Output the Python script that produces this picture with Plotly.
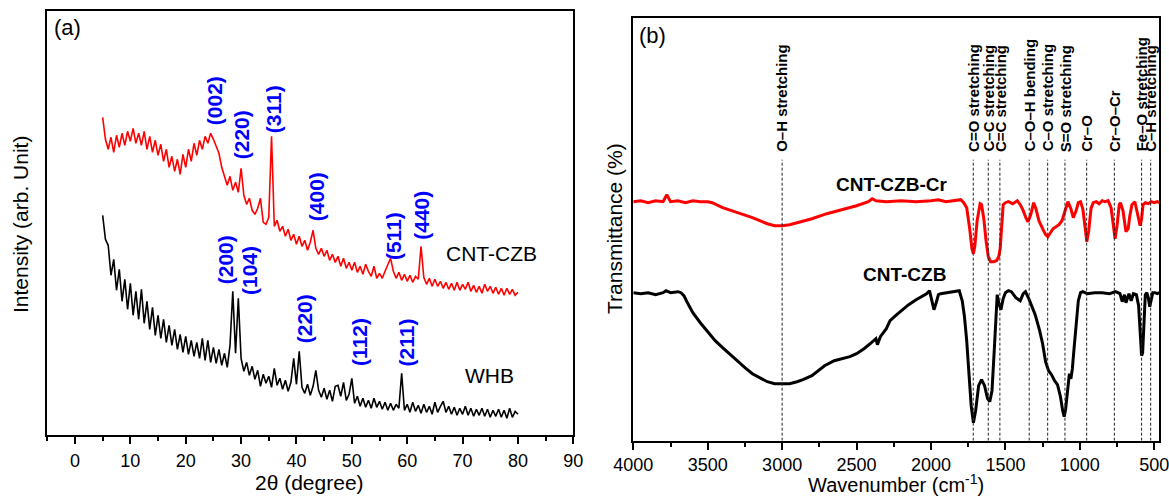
import plotly.graph_objects as go

W, H = 1169, 496
FONT = "Arial, Liberation Sans, sans-serif"

# ---------------- (a) XRD data ----------------
theta_start, theta_step = 5.0, 0.5
czb_xrd = [
    318, 296, 286, 298, 283, 300, 288, 302, 290, 304,
    294, 307, 292, 302, 290, 304, 286, 299, 283, 295,
    280, 291, 274, 286, 268, 279, 264, 276, 261, 281,
    268, 286, 274, 292, 280, 295, 286, 299, 292, 302,
    296, 289, 282, 268, 260, 250, 259, 245, 253, 243,
    267, 240, 231, 237, 225, 221, 227, 237, 213, 211,
    218, 299, 209, 215, 204, 209, 199, 206, 195, 201,
    191, 199, 189, 195, 185, 193, 205, 187, 181, 187,
    179, 185, 175, 181, 173, 179, 169, 177, 167, 173,
    165, 173, 163, 169, 161, 171, 164, 159, 169, 157,
    162, 157, 164, 170, 177, 164, 157, 163, 155, 161,
    154, 160, 153, 159, 156, 189, 158, 151, 157, 149,
    156, 149, 154, 147, 153, 146, 152, 145, 153, 145,
    151, 146, 153, 144, 150, 143, 149, 142, 151, 144,
    149, 142, 148, 141, 147, 140, 147, 141, 146, 140,
    143,
]
whb_xrd = [
    220, 196, 190, 160, 176, 145, 166, 134, 156, 126,
    152, 120, 144, 116, 146, 112, 134, 106, 128, 100,
    120, 97, 116, 93, 110, 90, 106, 86, 101, 83,
    99, 81, 95, 79, 93, 77, 97, 75, 95, 73,
    88, 72, 86, 70, 82, 68, 90, 144, 82, 137,
    77, 64, 73, 60, 69, 56, 65, 49, 61, 52,
    59, 48, 67, 50, 57, 46, 55, 44, 53, 77,
    51, 84, 48, 42, 51, 40, 49, 65, 45, 38,
    47, 36, 45, 34, 49, 50, 39, 53, 35, 41,
    57, 32, 39, 29, 37, 28, 35, 27, 37, 28,
    34, 26, 33, 25, 32, 25, 31, 27, 62, 25,
    31, 23, 33, 24, 30, 22, 31, 23, 29, 21,
    33, 23, 29, 34, 23, 29, 21, 28, 20, 27,
    21, 29, 20, 27, 19, 26, 20, 27, 19, 26,
    18, 25, 19, 26, 18, 25, 17, 27, 18, 24,
    21,
]
theta_czb = [theta_start + theta_step * i for i in range(len(czb_xrd))]
theta_whb = [theta_start + theta_step * i for i in range(len(whb_xrd))]

hkl_red_labels = ["(002)", "(220)", "(311)", "(400)", "(511)", "(440)"]
hkl_red_theta = [25.1, 30.0, 35.8, 43.6, 57.5, 62.6]
hkl_red_y = [308.6, 273.6, 300.3, 212, 173.6, 193.6]
hkl_blk_labels = ["(200)", "(104)", "(220)", "(112)", "(211)"]
hkl_blk_theta = [27.1, 31.4, 41.5, 51.4, 59.8]
hkl_blk_y = [148.6, 138.6, 90.3, 67, 67]

# ---------------- (b) FTIR data ----------------
wn_cr = [4000, 3950, 3900, 3850, 3800, 3775, 3750, 3700, 3650, 3600, 3550, 3500, 3470,
         3400, 3300, 3200, 3100, 3050, 3000, 2950, 2900, 2800, 2700, 2600, 2500, 2420,
         2395, 2370, 2300, 2200, 2100, 2000, 1950, 1900, 1850, 1800, 1780, 1760, 1740,
         1725, 1715, 1705, 1690, 1670, 1660, 1645, 1630, 1615, 1600, 1580, 1560, 1545,
         1535, 1525, 1515, 1500, 1480, 1450, 1420, 1400, 1380, 1360, 1348, 1330, 1310,
         1295, 1275, 1250, 1230, 1215, 1200, 1180, 1160, 1140, 1120, 1100, 1080, 1060,
         1044, 1025, 1010, 995, 980, 965, 953, 940, 925, 910, 890, 870, 850, 830, 810,
         790, 775, 763, 750, 735, 727, 710, 690, 675, 665, 650, 630, 615, 600, 595, 585,
         575, 560, 540, 520, 500, 480, 466]
t_cr = [239, 240, 238, 240, 239, 246, 239, 240, 238, 240, 239, 239, 238,
        233, 228, 223, 217, 215, 215, 216, 218, 222, 227, 231, 235, 239,
        242, 240, 239, 240, 239, 240, 241, 239, 240, 241, 238, 233, 212,
        192, 187, 195, 220, 237, 236, 222, 200, 184, 179, 179, 180, 184,
        192, 220, 236, 238, 239, 237, 240, 236, 230, 222, 219, 226, 238,
        232, 220, 212, 206, 204, 208, 212, 214, 216, 220, 230, 239, 232,
        223, 230, 238, 239, 232, 214, 199, 210, 232, 238, 239, 237, 240, 239, 240,
        233, 215, 202, 215, 236, 238, 230, 209, 212, 224, 236, 239, 230, 218, 215, 222,
        236, 238, 237, 239, 238, 239, 238]

wn_czb = [4000, 3950, 3900, 3850, 3800, 3780, 3750, 3700, 3680, 3660, 3640, 3600, 3550,
          3495, 3450, 3400, 3350, 3300, 3250, 3200, 3150, 3100, 3050, 3000, 2950, 2900,
          2860, 2800, 2750, 2715, 2650, 2600, 2545, 2500, 2450, 2400, 2370, 2360, 2340,
          2300, 2275, 2230, 2200, 2150, 2100, 2060, 2030, 2010, 2000, 1980, 1965, 1950,
          1935, 1900, 1850, 1810, 1790, 1775, 1760, 1745, 1730, 1715, 1700, 1680, 1660,
          1640, 1620, 1605, 1590, 1575, 1562, 1555, 1545, 1530, 1515, 1500, 1480, 1460,
          1430, 1400, 1380, 1365, 1340, 1320, 1300, 1270, 1250, 1230, 1210, 1190, 1170,
          1150, 1130, 1115, 1105, 1095, 1080, 1070, 1060, 1050, 1040, 1025, 1010, 995,
          980, 950, 900, 850, 800, 760, 730, 715, 700, 690, 670, 655, 640, 620, 605, 595,
          585, 578, 570, 560, 550, 540, 530, 520, 510, 495, 480, 466]
t_czb = [148, 147, 148, 146, 148, 150, 148, 149, 148, 145, 139, 128, 118,
         108, 100, 93, 86, 80, 73, 67, 63, 59, 57, 57, 57, 59,
         61, 65, 71, 75, 80, 82, 84, 87, 92, 98, 102, 96, 104,
         112, 120, 126, 130, 136, 141, 144, 147, 150, 143, 131, 138, 146,
         147, 148, 149, 150, 140, 124, 100, 70, 35, 18, 30, 55, 61,
         55, 42, 39, 50, 90, 130, 146, 138, 131, 142, 148, 150, 149,
         143, 140, 147, 149, 141, 134, 126, 110, 97, 79, 70, 66, 60,
         56, 44, 30, 24, 32, 56, 67, 62, 72, 90, 118, 140, 148,
         149, 147, 148, 148, 147, 149, 147, 139, 146, 138, 147, 140, 147, 146, 135, 110,
         85, 88, 120, 146, 148, 143, 134, 142, 148, 148, 147, 148]

band_labels = ["O\u2013H stretching", "C=O stretching", "C\u2013C stretching",
               "C=C stretching", "C\u2013O\u2013H bending", "C\u2013O stretching",
               "S=O stretching", "Cr\u2013O", "Cr\u2013O\u2013Cr", "Fe\u2013O stretching",
               "C\u2013H stretching"]
band_wn = [3000, 1716, 1615, 1537, 1340, 1216, 1100, 954, 768, 585, 524]
band_line_top = 281
band_label_bottom = 287

fig = go.Figure()

fig.add_trace(go.Scatter(x=theta_czb, y=czb_xrd, mode="lines",
                         line=dict(color="#ff0000", width=1.6), xaxis="x", yaxis="y"))
fig.add_trace(go.Scatter(x=theta_whb, y=whb_xrd, mode="lines",
                         line=dict(color="#000000", width=1.6), xaxis="x", yaxis="y"))

# dotted assignment lines (b)
for w in band_wn:
    fig.add_shape(type="line", xref="x2", yref="y2", x0=w, x1=w, y0=0, y1=band_line_top,
                  line=dict(color="#222222", width=1, dash="3px,2px"))

fig.add_trace(go.Scatter(x=wn_cr, y=t_cr, mode="lines",
                         line=dict(color="#ff0000", width=3), xaxis="x2", yaxis="y2"))
fig.add_trace(go.Scatter(x=wn_czb, y=t_czb, mode="lines",
                         line=dict(color="#000000", width=3), xaxis="x2", yaxis="y2"))

axis_common = dict(showline=True, linewidth=2, linecolor="black", mirror=True,
                   showgrid=False, zeroline=False, ticks="outside", tickwidth=1.5,
                   tickcolor="black", ticklen=7, automargin=False,
                   ticklabeloverflow="allow",
                   tickfont=dict(family=FONT, size=18, color="black"))

fig.update_layout(
    width=W, height=H,
    margin=dict(l=0, r=0, t=0, b=0, pad=0, autoexpand=False),
    paper_bgcolor="white", plot_bgcolor="white", showlegend=False,
    font=dict(family=FONT, color="black"),
    xaxis=dict(domain=[47.3 / W, 573.3 / W], range=[-5, 90], tickmode="linear",
               tick0=0, dtick=10, ticklabelstandoff=1,
               minor=dict(dtick=5, tick0=0, ticks="outside", ticklen=4,
                          tickwidth=1.5, tickcolor="black"),
               anchor="y", **axis_common),
    yaxis=dict(domain=[(H - 435.3) / H, (H - 11) / H], range=[0, 424.3],
               showticklabels=False, anchor="x",
               **{**axis_common, "ticks": ""}),
    xaxis2=dict(domain=[633.3 / W, 1159.3 / W], range=[4000, 466], tickmode="linear",
                tick0=500, dtick=500, ticklabelstandoff=0,
                minor=dict(dtick=250, tick0=500, ticks="outside", ticklen=4,
                           tickwidth=1.5, tickcolor="black"),
                anchor="y2", **axis_common),
    yaxis2=dict(domain=[(H - 440.7) / H, (H - 17.7) / H], range=[0, 423],
                showticklabels=False, anchor="x2",
                **{**axis_common, "ticks": ""}),
)


def paper_text(px, py, text, size, angle=0):
    return dict(x=px / W, y=1 - py / H, xref="paper", yref="paper", text=text,
                textangle=angle, xanchor="center", yanchor="middle", showarrow=False,
                font=dict(family=FONT, size=size, color="black"))


ann = []
# hkl labels
for lab, tx, ty in zip(hkl_red_labels, hkl_red_theta, hkl_red_y):
    ann.append(dict(x=tx, y=ty, xref="x", yref="y", text="<b>" + lab + "</b>",
                    textangle=-90, xanchor="center", yanchor="bottom", showarrow=False,
                    font=dict(family=FONT, size=21, color="#0000ff")))
for lab, tx, ty in zip(hkl_blk_labels, hkl_blk_theta, hkl_blk_y):
    ann.append(dict(x=tx, y=ty, xref="x", yref="y", text="<b>" + lab + "</b>",
                    textangle=-90, xanchor="center", yanchor="bottom", showarrow=False,
                    font=dict(family=FONT, size=21, color="#0000ff")))
ann.append(dict(x=75.2, y=182, xref="x", yref="y", text="CNT-CZB", showarrow=False,
                xanchor="center", yanchor="middle",
                font=dict(family=FONT, size=21, color="black")))
ann.append(dict(x=74.9, y=60, xref="x", yref="y", text="WHB", showarrow=False,
                xanchor="center", yanchor="middle",
                font=dict(family=FONT, size=21, color="black")))
# band labels
for lab, w in zip(band_labels, band_wn):
    ann.append(dict(x=w, y=band_label_bottom, xref="x2", yref="y2", text="<b>" + lab + "</b>",
                    textangle=-90, xanchor="center", yanchor="bottom", showarrow=False,
                    font=dict(family=FONT, size=15, color="black")))
ann.append(dict(x=2262, y=256, xref="x2", yref="y2", text="<b>CNT-CZB-Cr</b>",
                showarrow=False, xanchor="center", yanchor="middle",
                font=dict(family=FONT, size=19, color="black")))
ann.append(dict(x=2178, y=166, xref="x2", yref="y2", text="<b>CNT-CZB</b>",
                showarrow=False, xanchor="center", yanchor="middle",
                font=dict(family=FONT, size=19, color="black")))
# panel letters
ann.append(paper_text(67, 28, "(a)", 22))
ann.append(paper_text(652, 35, "(b)", 22))
# axis titles
ann.append(paper_text(310, 482, "2\u03b8 (degree)", 21))
ann.append(paper_text(896, 483, "Wavenumber (cm<sup>-1</sup>)", 20))
ann.append(paper_text(20, 225, "Intensity (arb. Unit)", 21, -90))
ann.append(paper_text(614, 229, "Transmittance (%)", 21, -90))
fig.update_layout(annotations=ann)

fig.write_html("out.html", config={"displayModeBar": False},
               post_script="document.body.style.margin='0';document.body.style.overflow='hidden';")
